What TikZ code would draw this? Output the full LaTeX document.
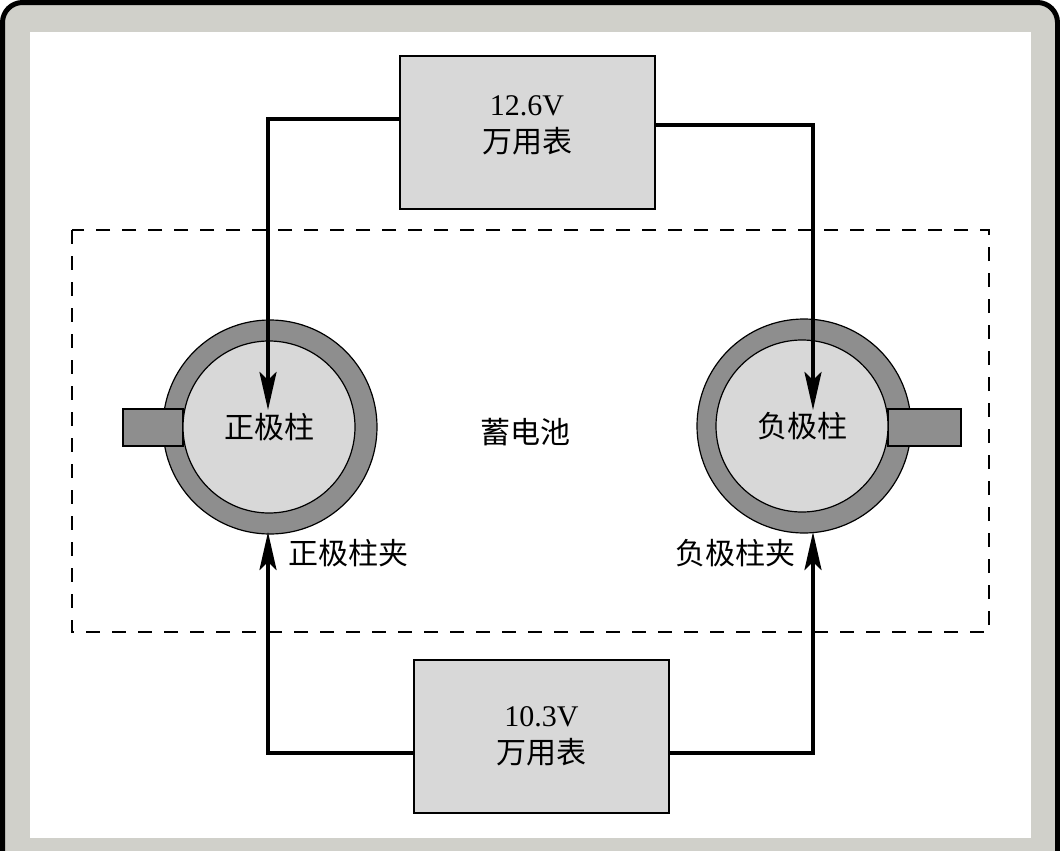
\documentclass[tikz,border=0pt]{standalone}
\usepackage{fontspec}
\setmainfont{Liberation Serif}
\newfontfamily\cjk{Noto Sans CJK SC}
\usetikzlibrary{arrows.meta}
\definecolor{framegray}{RGB}{208,208,202}
\definecolor{boxgray}{RGB}{216,216,216}
\definecolor{ringgray}{RGB}{142,142,142}

\begin{document}
\begin{tikzpicture}[x=0.5pt, y=-0.5pt, font=\fontsize{15}{18.5}\selectfont,
          >={Stealth[length=19pt, width=8.5pt, inset=4pt]},
          wire/.style={line width=2pt},
          meter/.style={draw, line width=1pt, fill=boxgray, minimum width=127.5pt, minimum height=76.5pt, inner sep=0pt},
          reading/.style={align=center, inner sep=0pt},
          ring/.style={circle, draw, line width=0.6pt, fill=ringgray, minimum size=107pt, inner sep=0pt},
          pole/.style={circle, draw, line width=0.6pt, fill=boxgray, minimum size=86pt, inner sep=0pt, font=\cjk\fontsize{15}{18}\selectfont},
          tab/.style={draw, line width=0.8pt, fill=ringgray, minimum height=18.5pt, inner sep=0pt},
          lbl/.style={font=\cjk\fontsize{15}{18}\selectfont, inner sep=0pt}]
        \clip (0,0) rectangle (1060,851);
        % frame
        \draw[line width=2.5pt, fill=framegray, rounded corners=10pt] (2.5,2.5) rectangle (1057.5,900);
        \fill[white] (30,32) rectangle (1031,838);
        % battery
        \draw[dash pattern=on 7pt off 6pt, line width=0.75pt] (72,230) rectangle (989,632);
        \node[lbl] (batt) at (525,432) {蓄电池};
        % posts
        \node[ring] (posRing) at (270,427) {};
        \node[tab, minimum width=30pt] (posTab) at (153,427.5) {};
        \node[pole] (pos) at (269,427) {正极柱};
        \node[ring] (negRing) at (804,426) {};
        \node[tab, minimum width=36.5pt] (negTab) at (924.5,427.5) {};
        \node[pole] (neg) at (802,426) {负极柱};
        \node[lbl] (posClamp) at (348,553) {正极柱夹};
        \node[lbl] (negClamp) at (735,553) {负极柱夹};
        \coordinate (posTop) at (268,410);
        \coordinate (negTop) at (813,410);
        \coordinate (posBot) at (268,532);
        \coordinate (negBot) at (813,532);
        % meters
        \node[meter, label={[reading, yshift=3.5pt]center:12.6V\\{\cjk 万用表}}] (mtop) at (527,132.5) {};
        \node[meter, label={[reading]center:10.3V\\{\cjk 万用表}}] (mbot) at (541.5,736.5) {};
        \draw[wire, ->] ([yshift=6.75pt]mtop.west) -| (posTop);
        \draw[wire, ->] ([yshift=3.75pt]mtop.east) -| (negTop);
        \draw[wire, ->] ([yshift=-8.25pt]mbot.west) -| (posBot);
        \draw[wire, ->] ([yshift=-8.25pt]mbot.east) -| (negBot);
      \end{tikzpicture}
\end{document}
